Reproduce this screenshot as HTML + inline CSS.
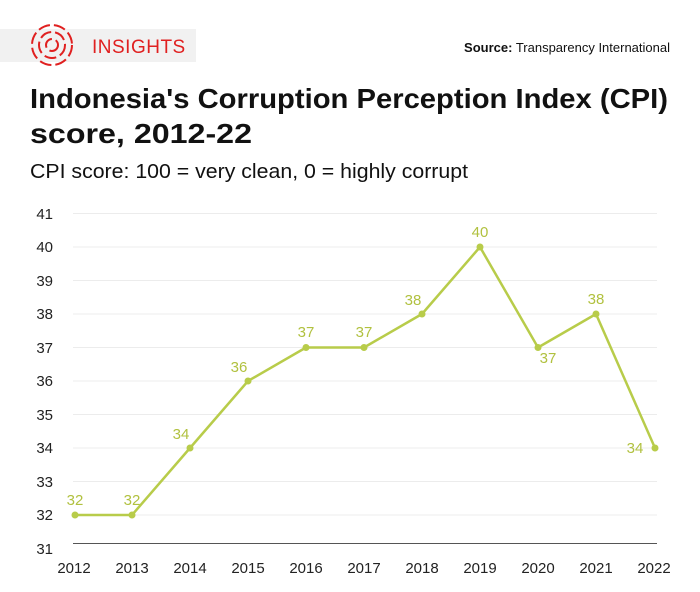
<!DOCTYPE html>
<html><head><meta charset="utf-8"><style>
body{margin:0;width:700px;height:587px;background:#fff;font-family:"Liberation Sans",sans-serif;overflow:hidden}
</style></head><body>
<svg width="700" height="587" xmlns="http://www.w3.org/2000/svg" font-family="Liberation Sans, sans-serif">
<rect x="0" y="29" width="196" height="33" fill="#f1f1f1"/>
<g fill="none" stroke="#e02020" stroke-width="2" stroke-dasharray="12 4">
<circle cx="52" cy="45" r="20"/>
<circle cx="52" cy="45" r="13"/>
<circle cx="52" cy="45" r="6"/>
</g>
<text x="92" y="53" font-size="19" fill="#e02020" letter-spacing="0.5">INSIGHTS</text>
<text x="670" y="52" font-size="13" fill="#111" text-anchor="end"><tspan font-weight="bold">Source:</tspan> Transparency International</text>
<text x="30" y="108" font-size="28" fill="#111" font-weight="bold" textLength="638" lengthAdjust="spacingAndGlyphs">Indonesia's Corruption Perception Index (CPI)</text>
<text x="30" y="143" font-size="28" fill="#111" font-weight="bold" textLength="222" lengthAdjust="spacingAndGlyphs">score, 2012-22</text>
<text x="30" y="178" font-size="20" fill="#111" textLength="438" lengthAdjust="spacingAndGlyphs">CPI score: 100 = very clean, 0 = highly corrupt</text>
<g stroke="#ececec" stroke-width="1">
<line x1="73" x2="657" y1="213.5" y2="213.5"/><line x1="73" x2="657" y1="247" y2="247"/>
<line x1="73" x2="657" y1="280.5" y2="280.5"/><line x1="73" x2="657" y1="314" y2="314"/>
<line x1="73" x2="657" y1="347.5" y2="347.5"/><line x1="73" x2="657" y1="381" y2="381"/>
<line x1="73" x2="657" y1="414.5" y2="414.5"/><line x1="73" x2="657" y1="448" y2="448"/>
<line x1="73" x2="657" y1="481.5" y2="481.5"/><line x1="73" x2="657" y1="515" y2="515"/>
</g>
<line x1="73" x2="657" y1="543.5" y2="543.5" stroke="#555" stroke-width="1"/>
<g font-size="15" fill="#222" text-anchor="end">
<text x="53" y="219">41</text><text x="53" y="252">40</text><text x="53" y="286">39</text>
<text x="53" y="319">38</text><text x="53" y="353">37</text><text x="53" y="386">36</text>
<text x="53" y="420">35</text><text x="53" y="453">34</text><text x="53" y="487">33</text>
<text x="53" y="520">32</text><text x="53" y="554">31</text>
</g>
<g font-size="15" fill="#222" text-anchor="middle">
<text x="74" y="573">2012</text><text x="132" y="573">2013</text><text x="190" y="573">2014</text>
<text x="248" y="573">2015</text><text x="306" y="573">2016</text><text x="364" y="573">2017</text>
<text x="422" y="573">2018</text><text x="480" y="573">2019</text><text x="538" y="573">2020</text>
<text x="596" y="573">2021</text><text x="654" y="573">2022</text>
</g>
<polyline fill="none" stroke="#b8cc4a" stroke-width="2.5" stroke-linejoin="round" points="75,515 132,515 190,448 248,381 306,347.5 364,347.5 422,314 480,247 538,347.5 596,314 655,448"/>
<g fill="#b8cc4a">
<circle cx="75" cy="515" r="3.5"/><circle cx="132" cy="515" r="3.5"/><circle cx="190" cy="448" r="3.5"/>
<circle cx="248" cy="381" r="3.5"/><circle cx="306" cy="347.5" r="3.5"/><circle cx="364" cy="347.5" r="3.5"/>
<circle cx="422" cy="314" r="3.5"/><circle cx="480" cy="247" r="3.5"/><circle cx="538" cy="347.5" r="3.5"/>
<circle cx="596" cy="314" r="3.5"/><circle cx="655" cy="448" r="3.5"/>
</g>
<g font-size="15" fill="#b1c13f" text-anchor="middle">
<text x="75" y="505">32</text><text x="132" y="505">32</text><text x="181" y="439">34</text>
<text x="239" y="372">36</text><text x="306" y="337">37</text><text x="364" y="337">37</text>
<text x="413" y="305">38</text><text x="480" y="237">40</text><text x="548" y="363">37</text>
<text x="596" y="304">38</text><text x="635" y="453">34</text>
</g>
</svg>
</body></html>
